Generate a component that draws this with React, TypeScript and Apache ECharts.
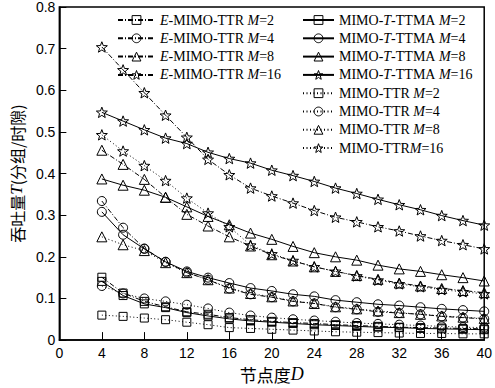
import React, { useEffect, useRef } from "react";
import * as echarts from "echarts";

const nodeDegree = [4, 6, 8, 10, 12, 14, 16, 18, 20, 22, 24, 26, 28, 30, 32, 34, 36, 38, 40];
const xTicks = [0, 4, 8, 12, 16, 20, 24, 28, 32, 36, 40];

// E-MIMO-TTR (dash-dot)
const eM2 = [0.151, 0.113, 0.093, 0.080, 0.068, 0.062, 0.054, 0.049, 0.045, 0.042, 0.040, 0.037, 0.035, 0.033, 0.031, 0.030, 0.029, 0.028, 0.027];
const eM4 = [0.334, 0.270, 0.220, 0.188, 0.162, 0.145, 0.124, 0.110, 0.103, 0.093, 0.088, 0.079, 0.074, 0.068, 0.065, 0.062, 0.057, 0.054, 0.051];
const eM8 = [0.456, 0.422, 0.386, 0.343, 0.302, 0.274, 0.248, 0.226, 0.205, 0.190, 0.176, 0.165, 0.155, 0.146, 0.137, 0.130, 0.124, 0.119, 0.114];
const eM16 = [0.704, 0.649, 0.594, 0.540, 0.487, 0.434, 0.397, 0.365, 0.346, 0.329, 0.311, 0.295, 0.284, 0.272, 0.262, 0.250, 0.239, 0.229, 0.219];
// MIMO-T-TTMA (solid)
const tM2 = [0.141, 0.107, 0.087, 0.078, 0.066, 0.058, 0.051, 0.046, 0.043, 0.040, 0.037, 0.035, 0.033, 0.031, 0.030, 0.028, 0.027, 0.026, 0.025];
const tM4 = [0.308, 0.253, 0.219, 0.188, 0.165, 0.150, 0.137, 0.125, 0.118, 0.110, 0.105, 0.096, 0.091, 0.086, 0.083, 0.079, 0.075, 0.072, 0.069];
const tM8 = [0.387, 0.372, 0.360, 0.343, 0.320, 0.297, 0.277, 0.257, 0.242, 0.225, 0.210, 0.200, 0.192, 0.180, 0.171, 0.165, 0.157, 0.150, 0.142];
const tM16 = [0.547, 0.526, 0.505, 0.485, 0.472, 0.451, 0.436, 0.425, 0.408, 0.395, 0.381, 0.365, 0.352, 0.338, 0.325, 0.313, 0.299, 0.287, 0.276];
// MIMO-TTR (dotted)
const rM2 = [0.060, 0.057, 0.053, 0.049, 0.043, 0.037, 0.030, 0.028, 0.026, 0.024, 0.022, 0.020, 0.019, 0.018, 0.017, 0.016, 0.016, 0.015, 0.015];
const rM4 = [0.130, 0.112, 0.100, 0.093, 0.085, 0.076, 0.066, 0.059, 0.054, 0.050, 0.047, 0.044, 0.041, 0.039, 0.037, 0.035, 0.033, 0.031, 0.030];
const rM8 = [0.248, 0.229, 0.215, 0.186, 0.162, 0.145, 0.125, 0.112, 0.104, 0.094, 0.088, 0.080, 0.075, 0.070, 0.066, 0.062, 0.058, 0.055, 0.052];
const rM16 = [0.493, 0.454, 0.419, 0.383, 0.341, 0.305, 0.272, 0.228, 0.207, 0.191, 0.176, 0.165, 0.154, 0.144, 0.135, 0.128, 0.121, 0.116, 0.111];

const STAR =
  "path://M0,-10 L2.469,-3.398 L9.511,-3.09 L3.995,1.298 L5.878,8.09 L0,4.2 L-5.878,8.09 L-3.995,1.298 L-9.511,-3.09 L-2.469,-3.398 Z";

const DASHDOT = [5, 2, 1, 2];
const DOTTED = [1, 2.5];

const seriesDefs = [
  { name: "E-MIMO-TTR M=2", vals: eM2, sym: "rect", size: 8, dash: DASHDOT },
  { name: "E-MIMO-TTR M=4", vals: eM4, sym: "circle", size: 9, dash: DASHDOT },
  { name: "E-MIMO-TTR M=8", vals: eM8, sym: "triangle", size: 10, dash: DASHDOT },
  { name: "E-MIMO-TTR M=16", vals: eM16, sym: STAR, size: 11, dash: DASHDOT },
  { name: "MIMO-T-TTMA M=2", vals: tM2, sym: "rect", size: 8, dash: "solid" },
  { name: "MIMO-T-TTMA M=4", vals: tM4, sym: "circle", size: 9, dash: "solid" },
  { name: "MIMO-T-TTMA M=8", vals: tM8, sym: "triangle", size: 10, dash: "solid" },
  { name: "MIMO-T-TTMA M=16", vals: tM16, sym: STAR, size: 11, dash: "solid" },
  { name: "MIMO-TTR M=2", vals: rM2, sym: "rect", size: 8, dash: DOTTED },
  { name: "MIMO-TTR M=4", vals: rM4, sym: "circle", size: 9, dash: DOTTED },
  { name: "MIMO-TTR M=8", vals: rM8, sym: "triangle", size: 10, dash: DOTTED },
  { name: "MIMO-TTRM=16", vals: rM16, sym: STAR, size: 11, dash: DOTTED },
];

const legendFormat = (name: string) => {
  if (name.startsWith("E-")) return name.replace(/^E/, "{i|E}").replace(" M=", " {i|M}=");
  if (name.startsWith("MIMO-T-")) return name.replace("-T-", "-{i|T}-").replace(" M=", " {i|M}=");
  if (name === "MIMO-TTRM=16") return "MIMO-TTR{i|M}=16";
  return name.replace(" M=", " {i|M}=");
};

const serif = "'Liberation Serif', 'Times New Roman', serif";
const legendText = {
  fontFamily: serif,
  fontSize: 14,
  color: "#000",
  lineHeight: 16,
  rich: {
    i: { fontFamily: serif, fontStyle: "italic", fontSize: 14, lineHeight: 16, color: "#000" },
  },
};

const legendItemStyle = { color: "none", borderColor: "#000", borderWidth: 1 };

export default function App() {
  const ref = useRef<HTMLDivElement>(null);
  useEffect(() => {
    if (!ref.current) return;
    const chart = echarts.init(ref.current, null, { renderer: "svg" });
    chart.setOption({
      animation: false,
      backgroundColor: "#fff",
      grid: {
        left: 58,
        right: 10,
        top: 7,
        bottom: 39.5,
        show: true,
        borderColor: "#000",
        borderWidth: 1.5,
      },
      legend: [
        {
          orient: "vertical",
          left: 112,
          top: 7,
          itemWidth: 37,
          itemHeight: 11,
          itemGap: 2.3,
          selectedMode: false,
          data: seriesDefs.slice(0, 4).map((s) => s.name),
          formatter: legendFormat,
          textStyle: legendText,
          itemStyle: legendItemStyle,
        },
        {
          orient: "vertical",
          left: 297,
          top: 7,
          itemWidth: 31,
          itemHeight: 11,
          itemGap: 2.3,
          selectedMode: false,
          data: seriesDefs.slice(4).map((s) => s.name),
          formatter: legendFormat,
          textStyle: legendText,
          itemStyle: legendItemStyle,
        },
      ],
      xAxis: {
        type: "value",
        min: 0,
        max: 40,
        interval: 4,
        name: "节点度{i|D}",
        nameLocation: "middle",
        nameGap: 19,
        nameTextStyle: {
          fontFamily: "'Noto Sans CJK SC', sans-serif",
          fontSize: 17,
          color: "#000",
          rich: { i: { fontFamily: serif, fontStyle: "italic", fontSize: 18, color: "#000" } },
        },
        axisLine: { lineStyle: { color: "#000", width: 1.5 } },
        axisTick: { inside: true, length: 8, lineStyle: { color: "#000", width: 1 } },
        axisLabel: {
          color: "#000",
          fontFamily: "'Liberation Sans', Arial, sans-serif",
          fontSize: 14,
          margin: 6,
          customValues: xTicks,
        },
        splitLine: { show: false },
      },
      yAxis: {
        type: "value",
        min: 0,
        max: 0.8,
        interval: 0.1,
        name: "吞吐量{i|T}(分组/时隙)",
        nameLocation: "middle",
        nameGap: 33,
        nameTextStyle: {
          fontFamily: "'Noto Sans CJK SC', sans-serif",
          fontSize: 16,
          color: "#000",
          rich: { i: { fontFamily: serif, fontStyle: "italic", fontSize: 17, color: "#000" } },
        },
        axisLine: { lineStyle: { color: "#000", width: 1.5 } },
        axisTick: { inside: true, length: 7, lineStyle: { color: "#000", width: 1 } },
        axisLabel: {
          color: "#000",
          fontFamily: "'Liberation Sans', Arial, sans-serif",
          fontSize: 14,
          margin: 4,
        },
        splitLine: { show: false },
      },
      series: seriesDefs.map((s) => ({
        name: s.name,
        type: "line",
        data: nodeDegree.map((d, i) => [d, s.vals[i]]),
        symbol: s.sym,
        symbolSize: s.size,
        symbolKeepAspect: true,
        showAllSymbol: true,
        lineStyle: { color: "#000", width: 1, type: s.dash },
        itemStyle: { color: "none", borderColor: "#000", borderWidth: 1 },
        emphasis: { disabled: true },
      })),
    });
    return () => chart.dispose();
  }, []);
  return <div ref={ref} style={{ width: 495, height: 388, position: "absolute", left: 0, top: 0 }} />;
}
